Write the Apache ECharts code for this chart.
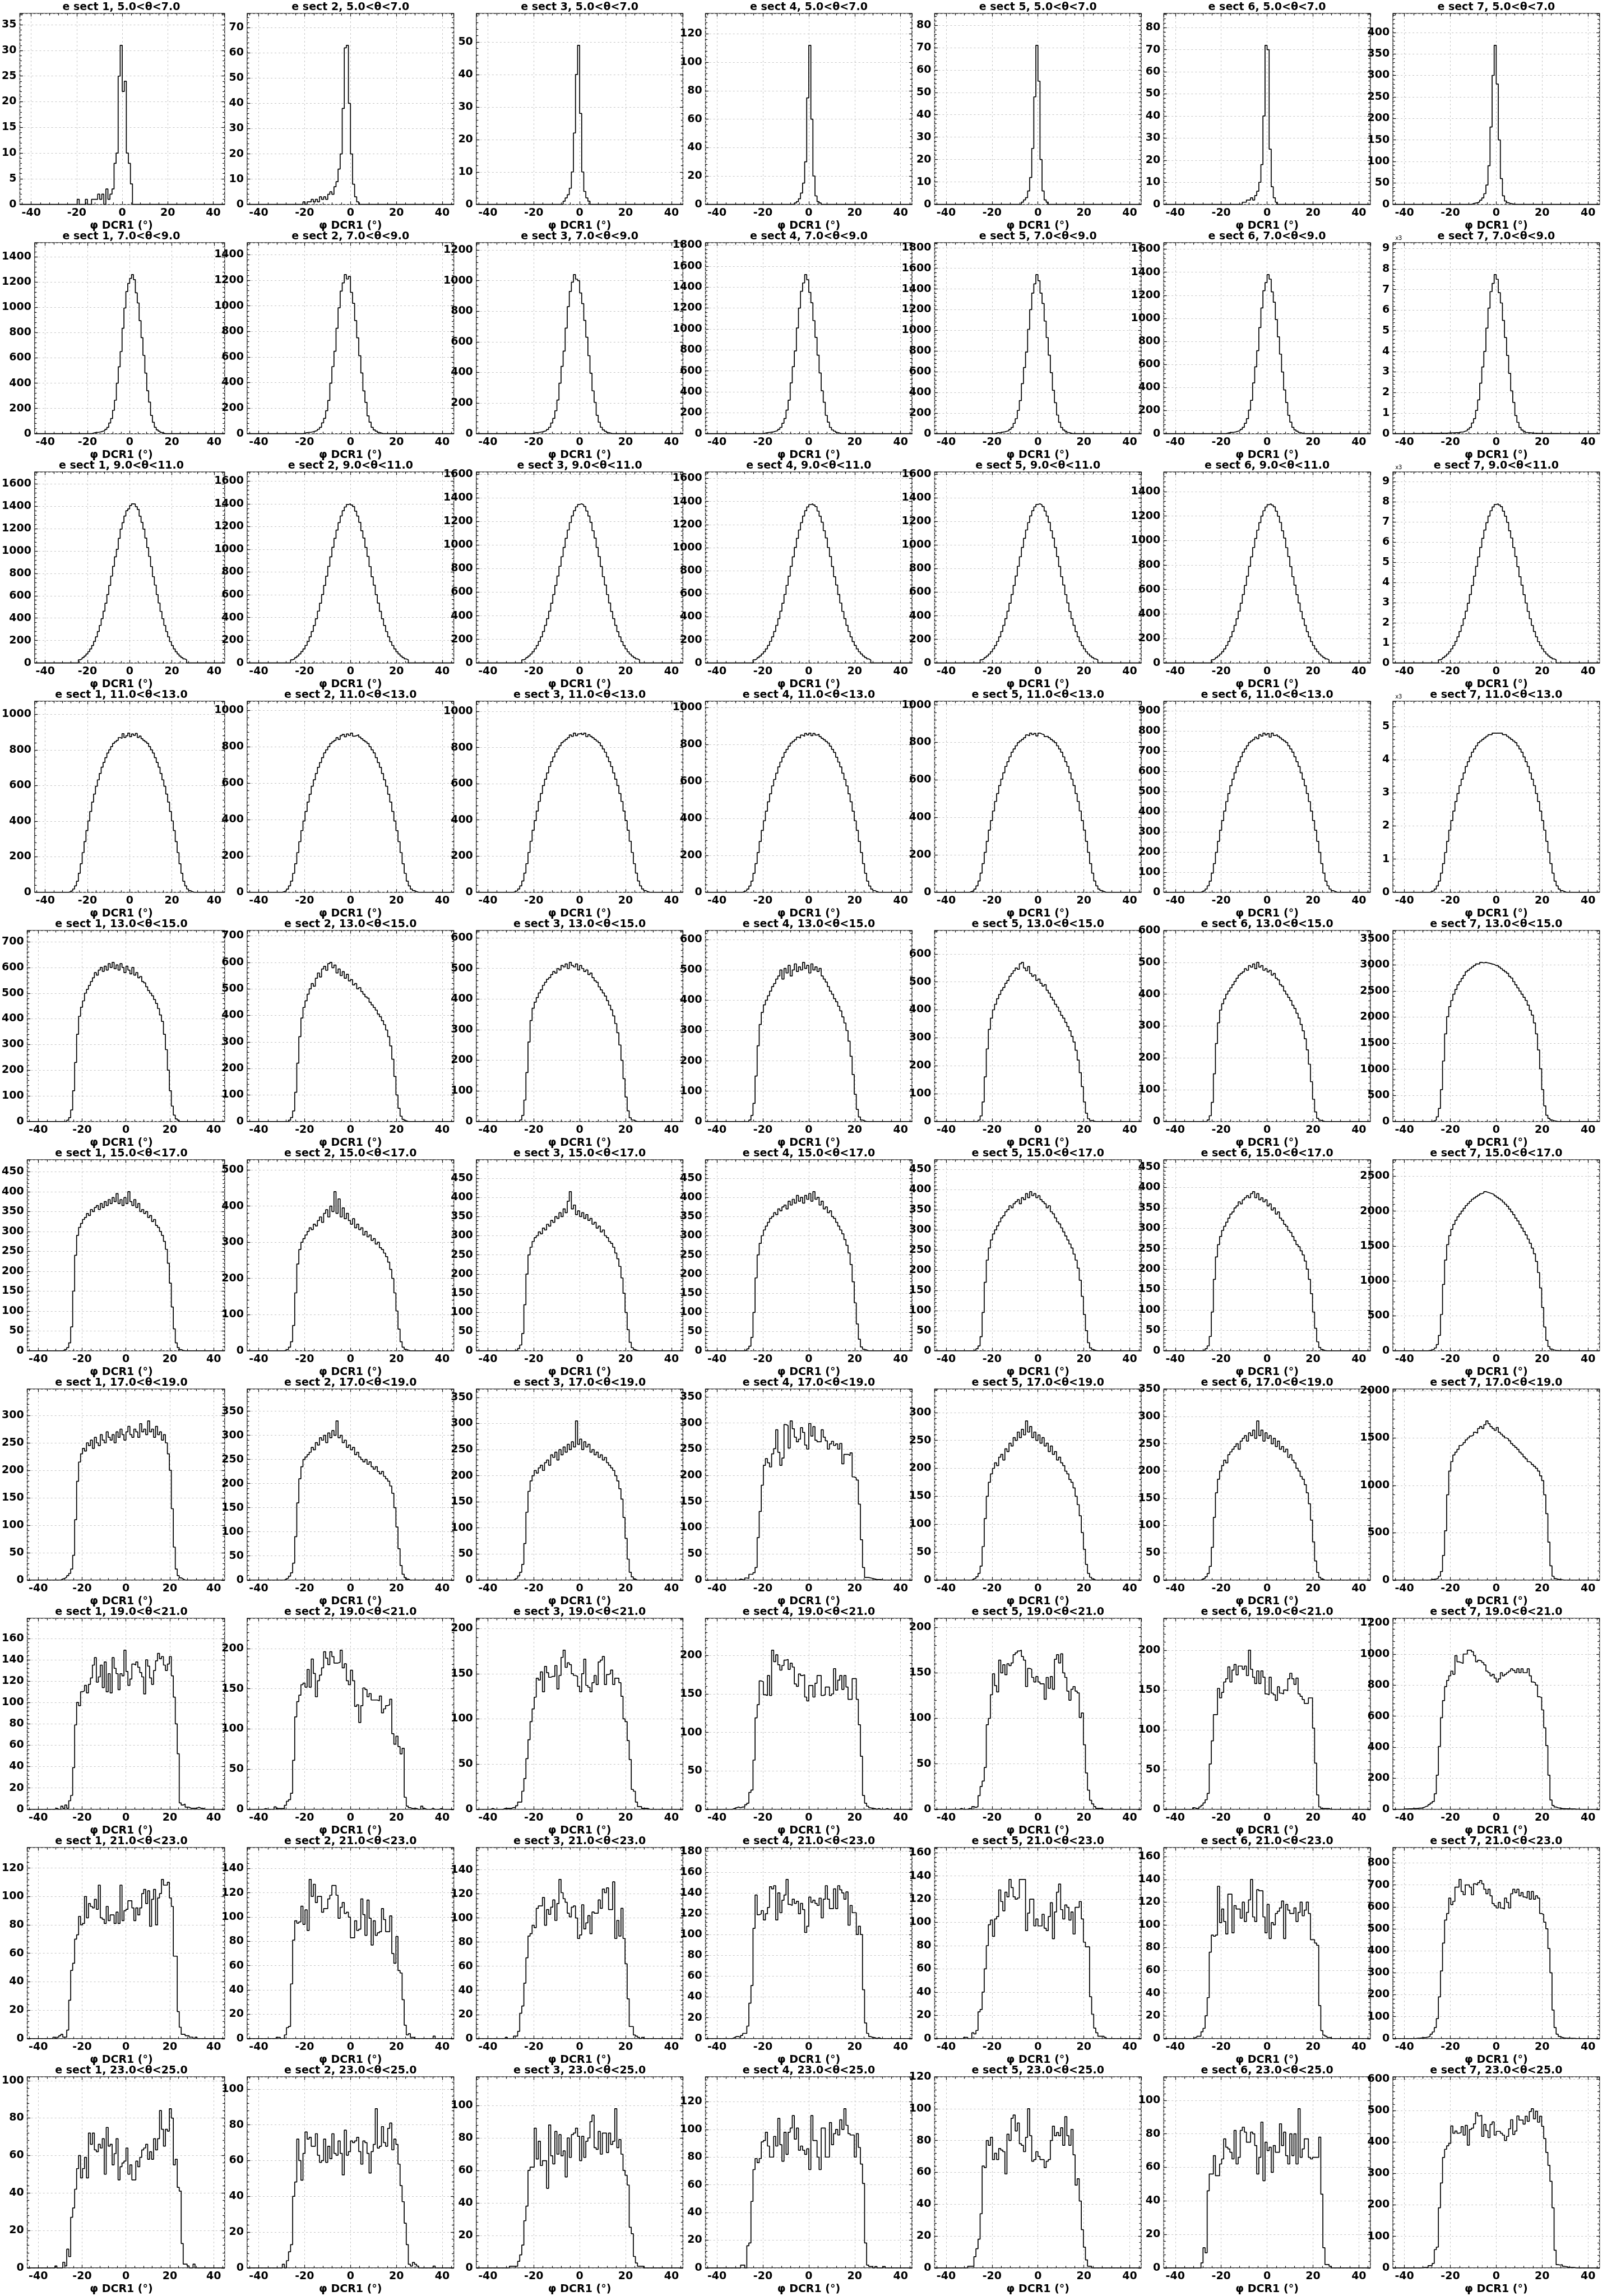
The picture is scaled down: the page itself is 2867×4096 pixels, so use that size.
<!DOCTYPE html>
<html><head><meta charset="utf-8">
<script src="https://cdn.jsdelivr.net/npm/echarts@6/dist/echarts.min.js"></script>
<style>html,body{margin:0;padding:0;background:#fff}#chart{width:2867px;height:4096px}</style>
</head><body><div id="chart"></div>
<script>
// ---------------- DATA ----------------
const PHI_MIN = -45, PHI_MAX = 45, N_BINS = 100;
const thetaLow = [5, 7, 9, 11, 13, 15, 17, 19, 21, 23];
const thetaHigh = [7, 9, 11, 13, 15, 17, 19, 21, 23, 25];
const sectorIds = [1, 2, 3, 4, 5, 6, 7];
const xMinorTicks = [-44, -36, -32, -28, -24, -16, -12, -8, -4, 4, 8, 12, 16, 24, 28, 32, 36, 44];
const xAxisTitle = 'φ DCR1 (°)';

// first non-empty bin of each sector histogram, then the bin counts from there
const start_5_7 = [28, 27, 42, 43, 42, 38, 38];
const counts_5_7 = [
 [1,0,0,0,1,0,0,1,1,1,2,1,2,0,3,1,2,3,8,10,25,31,22,24,10,8,4],
 [1,0,1,1,2,1,2,1,3,2,3,2,4,5,4,7,9,14,20,38,62,63,40,20,8,3,1],
 [1,2,3,5,10,22,40,49,28,10,4,2,1],
 [1,2,4,8,15,30,75,112,60,20,6,2,1],
 [1,2,3,6,12,25,48,71,55,20,6,2,1],
 [1,1,2,2,3,2,4,6,10,18,40,72,70,25,8,3,1],
 [2,3,4,6,10,15,25,45,90,180,300,370,280,150,60,20,8,4,2,1]
];
const start_7_9 = [30, 27, 27, 28, 29, 30, 9];
const counts_7_9 = [
 [5,8,10,12,15,20,25,35,50,85,120,185,265,400,530,650,835,995,1125,1190,1230,1260,1220,1115,1035,895,760,620,480,340,250,145,90,50,30,20,10,5],
 [5,8,10,12,15,20,25,35,50,85,120,180,260,395,525,645,825,985,1115,1180,1245,1210,1230,1105,1020,885,750,610,475,335,245,140,90,50,30,20,10,5],
 [4,6,8,10,12,16,20,28,42,70,100,150,220,330,440,540,690,830,930,990,1040,1010,1000,920,850,740,630,510,395,280,205,120,75,42,25,16,8,4],
 [6,10,12,15,18,24,30,42,60,100,145,225,320,485,640,790,1010,1200,1360,1440,1520,1470,1350,1250,1080,920,750,580,410,300,175,110,60,36,24,12,6],
 [6,10,12,15,18,24,30,42,60,100,145,225,320,485,640,790,1010,1200,1360,1450,1540,1480,1360,1260,1090,930,760,590,420,300,180,110,60,36,24,12,6],
 [5,9,11,13,16,22,28,38,55,90,130,205,290,440,580,720,920,1090,1240,1310,1380,1340,1230,1140,990,840,690,535,380,270,160,100,55,33,22,11,5],
 [10,10,12,10,12,15,12,15,15,18,15,20,18,20,22,25,25,30,35,40,45,50,50,80,80,120,150,220,300,520,730,1130,1640,2450,3240,4000,5130,6100,6900,7300,7730,7500,6850,6350,5500,4670,3800,2930,2080,1520,880,550,300,180,120,60,50,40,30,20,20,15,15,12,12,10,10,10,8,8,8,6,6,5,5,5,4,4,3,3,2]
];
const start_9_11 = [23, 21, 22, 23, 22, 23, 22];
const counts_9_11 = [
 [28,37,48,62,80,101,126,156,192,233,281,335,395,462,533,611,692,775,862,947,1015,1112,1195,1252,1311,1358,1375,1405,1420,1418,1395,1370,1310,1255,1195,1115,1030,950,860,770,695,610,535,460,395,335,280,233,190,156,126,100,80,62,48,37,28],
 [28,36,47,61,79,100,124,154,189,230,277,330,389,456,526,602,682,764,850,934,1017,1096,1169,1234,1293,1339,1372,1393,1400,1390,1376,1336,1292,1237,1163,1099,1016,937,848,759,685,601,527,454,389,330,276,230,187,154,124,99,79,61,47,36,28],
 [27,35,46,59,76,96,120,148,183,222,267,319,376,439,507,581,658,737,820,901,980,1057,1128,1191,1247,1291,1324,1344,1350,1341,1327,1289,1246,1193,1122,1060,980,903,818,732,661,580,509,437,376,319,266,222,181,148,120,95,76,59,46,35,27],
 [27,36,47,60,78,98,122,152,187,226,273,326,384,449,518,594,673,753,838,920,1002,1081,1153,1217,1274,1320,1353,1373,1380,1370,1356,1317,1273,1220,1147,1084,1001,923,836,748,676,593,520,447,384,326,272,226,185,152,122,97,78,60,47,36,27],
 [27,35,46,59,76,96,120,148,183,222,267,319,376,439,507,581,658,737,820,901,980,1057,1128,1191,1247,1291,1324,1344,1350,1341,1327,1289,1246,1193,1122,1060,980,903,818,732,661,580,509,437,376,319,266,222,181,148,120,95,76,59,46,35,27],
 [26,34,44,57,73,92,115,143,176,213,257,307,361,423,488,559,633,709,789,867,943,1017,1085,1146,1200,1243,1274,1293,1300,1290,1276,1240,1199,1148,1080,1020,942,869,787,705,636,558,490,421,361,307,256,213,174,143,115,92,73,57,44,34,26],
 [156,206,267,345,445,562,701,868,1068,1296,1563,1864,2197,2570,2965,3399,3849,4311,4795,5268,5735,6186,6598,6965,7293,7554,7744,7861,7900,7844,7760,7538,7288,6982,6565,6204,5731,5285,4784,4283,3866,3393,2976,2559,2197,1864,1558,1296,1057,868,701,556,445,345,267,206,156]
];
const start_11_13 = [18, 17, 18, 18, 17, 18, 18];
const counts_11_13 = [
 [4,9,18,36,62,107,160,223,285,347,401,454,507,552,596,632,668,703,730,757,783,801,819,837,846,854,870,865,892,870,880,895,875,890,882,893,870,878,863,854,846,837,819,801,783,757,730,703,668,632,596,552,507,454,401,347,285,223,160,107,62,36,18,9,4],
 [4,9,17,35,61,104,157,218,278,339,392,444,496,539,583,618,653,687,713,740,766,783,800,818,827,835,850,840,861,868,855,870,862,875,858,861,866,853,844,835,827,818,800,783,766,740,713,687,653,618,583,539,496,444,392,339,278,218,157,104,61,35,17,9,4],
 [4,9,18,35,62,106,158,220,282,343,396,449,502,546,590,625,660,695,722,748,774,792,810,827,836,845,854,870,862,880,866,875,880,872,880,860,871,862,854,845,836,827,810,792,774,748,722,695,660,625,590,546,502,449,396,343,282,220,158,106,62,35,18,9,4],
 [4,9,17,34,60,103,155,215,275,335,387,439,490,533,576,611,645,679,705,731,757,774,791,808,817,826,840,835,851,845,860,852,862,848,860,851,856,843,834,826,817,808,791,774,757,731,705,679,645,611,576,533,490,439,387,335,275,215,155,103,60,34,17,9,4],
 [4,9,17,34,60,102,153,213,272,332,383,434,485,527,570,604,638,672,697,723,748,765,782,799,808,816,825,840,836,850,842,848,835,850,845,842,832,833,825,816,808,799,782,765,748,723,697,672,638,604,570,527,485,434,383,332,272,213,153,102,60,34,17,9,4],
 [4,8,16,32,55,95,142,198,253,308,356,403,450,490,529,561,593,624,648,672,695,711,727,743,751,758,770,762,782,775,790,781,788,770,790,778,782,774,766,758,751,743,727,711,695,672,648,624,593,561,529,490,450,403,356,308,253,198,142,95,55,32,16,8,4],
 [24,48,96,192,336,576,864,1200,1536,1872,2160,2448,2736,2976,3216,3408,3600,3792,3936,4080,4224,4320,4416,4512,4560,4608,4656,4704,4752,4752,4800,4800,4800,4800,4800,4752,4752,4704,4656,4608,4560,4512,4416,4320,4224,4080,3936,3792,3600,3408,3216,2976,2736,2448,2160,1872,1536,1200,864,576,336,192,96,48,24]
];
const start_13_15 = [20, 20, 21, 21, 21, 21, 19];
const counts_13_15 = [
 [5,15,45,120,230,340,410,445,470,500,515,530,545,560,580,570,590,600,585,605,590,615,600,620,595,610,590,615,600,580,605,590,575,600,570,580,560,565,545,540,525,510,500,490,475,460,440,415,390,340,280,200,120,60,25,10,5],
 [5,15,40,110,220,320,390,430,455,480,500,520,510,540,560,545,575,585,570,595,600,580,590,560,575,550,565,540,555,530,535,515,520,500,505,490,480,470,465,450,440,430,420,405,395,380,365,345,320,285,235,170,100,50,20,8,3],
 [5,20,70,160,260,330,370,390,405,420,430,445,455,465,470,480,490,485,500,495,510,505,515,500,520,510,505,515,495,510,500,490,495,480,485,470,460,455,440,430,420,410,395,380,365,345,320,290,250,200,140,80,35,12,5,2],
 [5,20,60,150,250,320,360,385,400,415,430,445,455,470,480,500,470,505,490,515,480,500,520,495,510,500,525,505,515,490,520,500,510,495,505,480,470,460,445,430,420,405,395,380,365,345,325,300,265,215,155,90,40,15,5,2],
 [5,20,70,160,260,330,370,400,420,440,455,470,480,495,505,520,530,540,550,545,565,570,550,540,555,530,520,525,505,510,495,485,490,470,460,445,435,420,410,395,380,370,355,340,325,305,285,255,220,175,125,70,30,10,4,2],
 [5,18,60,150,245,310,350,370,385,400,410,420,430,440,450,460,465,470,480,475,490,485,495,480,500,485,490,475,480,470,475,460,465,450,445,430,425,410,400,390,380,365,355,340,325,305,285,260,225,180,125,70,30,10,4,2],
 [10,30,90,250,610,1160,1680,2010,2200,2320,2440,2530,2620,2680,2740,2800,2870,2900,2930,2960,2990,3020,3020,3050,3040,3050,3040,3030,3020,3010,2990,2990,2960,2930,2900,2870,2840,2780,2750,2680,2620,2560,2500,2440,2380,2320,2230,2130,2040,1890,1680,1370,1010,610,300,120,60,30,15,8]
];
const start_15_17 = [18, 18, 19, 19, 19, 19, 17];
const counts_15_17 = [
 [2,4,8,20,60,150,240,290,310,320,330,335,345,340,355,350,360,365,355,370,360,375,365,380,370,385,375,395,370,380,365,385,370,400,375,365,380,360,370,350,355,345,350,335,340,325,330,315,310,300,290,275,255,220,170,110,55,20,8,3,1],
 [2,4,10,25,70,160,240,280,300,310,320,330,340,335,350,345,360,370,355,380,390,370,400,385,440,380,420,370,395,365,380,360,350,365,340,350,335,340,320,330,315,320,305,310,295,300,285,280,270,260,245,225,200,160,110,60,25,10,4,2],
 [2,6,15,45,120,200,250,270,285,295,300,310,305,320,315,330,325,340,335,350,345,360,350,370,360,390,415,370,380,355,365,350,360,345,355,340,345,330,335,320,325,310,315,300,295,285,280,270,255,240,220,190,150,100,55,22,8,3,1],
 [2,5,12,35,100,190,250,280,300,315,325,335,345,350,360,355,370,365,375,380,370,390,380,395,385,405,390,400,385,405,395,410,390,415,395,400,380,390,370,375,360,365,350,345,335,325,315,305,290,275,255,225,180,125,70,30,10,4,2],
 [2,5,12,35,95,170,225,255,275,290,300,310,320,330,335,345,350,360,355,365,370,375,365,380,375,390,380,395,385,390,380,385,375,370,365,355,360,345,340,330,320,315,305,295,285,275,265,255,240,225,205,175,135,90,50,20,7,3,1],
 [2,5,12,35,95,175,230,260,280,295,305,315,325,335,340,350,355,365,360,370,375,380,375,385,390,375,385,370,375,365,370,355,360,345,350,335,340,325,320,310,305,295,290,280,270,260,255,245,235,220,200,175,140,95,55,22,8,3,1],
 [5,10,20,40,90,220,520,950,1300,1520,1650,1740,1810,1870,1920,1960,2000,2040,2080,2110,2140,2170,2190,2210,2230,2250,2260,2280,2270,2260,2250,2240,2220,2200,2180,2160,2130,2100,2070,2030,1990,1950,1900,1860,1810,1760,1710,1660,1600,1540,1470,1390,1280,1120,900,620,340,150,60,25,12,6,3]
];
const start_17_19 = [17, 18, 18, 16, 18, 18, 18];
const counts_17_19 = [
 [2,3,5,8,12,20,45,110,180,215,230,240,235,250,245,255,240,260,250,245,265,255,250,270,260,255,265,250,270,260,275,265,255,270,280,265,260,275,270,260,285,270,275,265,290,270,275,260,280,265,270,255,265,250,230,200,130,60,20,8,4,2],
 [2,4,8,15,35,90,160,210,235,250,255,260,265,275,270,285,280,295,290,300,285,305,295,310,300,330,295,300,285,290,275,280,270,275,260,265,255,250,245,250,240,245,235,230,235,225,220,225,215,210,205,195,180,150,110,65,30,12,5,2],
 [2,4,8,15,30,70,130,170,190,200,210,205,215,220,210,225,230,220,240,235,245,230,250,240,255,245,260,250,265,255,305,260,270,250,265,255,260,245,250,240,245,235,240,230,235,225,220,215,210,200,190,175,155,120,80,40,15,6,2],
 [2,1,0,4,3,11,11,14,24,81,131,181,219,232,224,216,241,251,287,244,219,233,297,295,252,304,289,273,264,269,291,282,258,250,299,275,293,267,264,264,287,273,266,250,260,265,257,260,250,261,222,240,240,238,243,197,195,191,145,77,24,5,5,4,3,2,1,1,1],
 [2,3,6,12,25,60,110,150,175,190,200,210,205,220,225,215,235,230,245,240,255,250,265,255,270,260,285,265,275,255,265,250,260,245,255,240,245,230,240,225,230,215,220,210,205,195,190,180,175,165,150,135,115,85,55,28,12,5,2],
 [2,3,6,12,25,60,115,160,185,200,210,220,215,230,235,240,245,250,240,255,260,265,255,270,265,275,260,292,265,275,255,270,260,265,250,260,245,255,240,245,235,240,225,230,220,215,205,200,190,185,175,160,140,110,70,35,14,5,2],
 [5,8,12,20,40,90,260,520,900,1150,1250,1320,1350,1380,1420,1430,1450,1480,1500,1520,1530,1560,1550,1600,1620,1600,1640,1680,1650,1620,1600,1580,1610,1560,1540,1520,1500,1490,1470,1440,1420,1400,1380,1350,1330,1300,1280,1250,1240,1220,1200,1180,1150,1100,1050,900,700,400,150,40,15,8,5,3]
];
const start_19_21 = [14, 8, 7, 13, 12, 14, 5];
const counts_19_21 = [
 [1,0,0,3,1,4,1,8,13,39,79,100,97,110,111,116,109,117,123,135,142,119,124,135,114,138,110,127,109,142,132,127,112,127,125,149,129,116,122,136,135,138,133,128,124,108,140,134,123,117,130,139,146,141,143,135,130,136,143,125,105,80,52,6,4,5,2,2,1,1,1,1,2,1,1],
 [1,0,0,0,0,3,1,1,1,1,5,10,12,20,61,115,134,142,155,157,152,174,152,187,169,140,160,167,176,196,188,180,196,190,182,182,183,198,176,181,160,155,173,160,128,130,108,129,151,149,140,144,136,136,136,135,141,120,125,129,130,137,94,81,91,78,69,76,15,4,2,1,1,1,0,0,4,1,0,0,0,1,0,0,0,1],
 [1,0,0,0,0,0,1,1,1,1,2,2,4,8,8,20,34,56,77,97,111,124,145,143,152,130,158,151,146,147,147,159,133,148,168,176,157,162,160,150,148,147,136,130,150,166,137,135,130,140,148,138,163,165,169,138,149,150,154,138,145,145,140,125,100,97,76,55,22,20,8,3,3,1,1,1],
 [1,2,3,2,3,3,6,8,22,25,64,119,136,167,166,149,148,174,148,207,192,201,188,181,187,194,195,182,190,185,163,160,176,174,175,146,141,161,161,146,164,174,174,148,149,159,159,148,150,183,155,168,174,156,174,159,143,143,170,170,143,110,69,18,8,4,2,1,1,0,1,0,0,0,1],
 [1,0,0,0,1,0,3,2,3,15,25,31,46,93,100,126,149,136,129,164,150,159,148,160,158,161,170,172,174,175,168,164,135,155,154,145,140,146,140,138,138,121,145,133,146,132,165,170,161,171,150,145,130,120,132,135,130,128,101,106,71,40,21,10,6,3,1,1,1],
 [2,1,1,3,5,8,12,20,57,86,119,119,152,140,147,160,164,179,160,175,182,169,180,180,176,180,168,200,176,166,158,174,158,174,166,145,144,166,146,144,137,154,146,145,150,149,164,171,164,157,165,145,142,138,133,133,140,140,102,58,18,3,1,1,1,1],
 [2,2,3,3,4,5,6,8,8,12,18,22,30,40,50,100,220,405,590,700,790,830,860,890,870,990,950,945,940,1000,1000,1025,1025,1015,990,950,960,955,945,930,890,880,860,870,845,820,840,880,860,870,880,890,905,895,880,905,880,905,880,880,905,860,820,815,800,725,720,640,525,410,220,60,25,15,10,8,5,4,3,3,2,2,2,1,1]
];
const start_21_23 = [13, 14, 14, 13, 14, 15, 11];
const counts_21_23 = [
 [1,0,1,2,3,1,1,6,27,48,53,70,73,86,80,81,100,85,95,93,92,98,91,108,85,84,81,93,83,87,87,81,89,81,108,83,90,91,97,97,92,83,92,87,92,102,105,95,104,79,98,105,80,99,102,112,108,108,110,99,93,58,58,19,8,3,3,2,2,1,1,0,1],
 [1,1,0,0,3,9,10,45,81,97,95,96,109,94,106,89,131,117,127,112,117,117,104,107,107,115,118,126,126,118,99,108,112,103,104,100,83,83,97,89,90,115,102,85,114,99,77,97,85,87,88,107,98,88,88,101,70,62,84,56,54,32,11,3,4,1,1,0,0,0,0,0,0,0,0,0,2],
 [1,0,0,0,2,2,6,21,27,46,67,85,87,94,92,108,110,110,117,94,107,103,109,115,98,112,132,121,116,113,104,101,109,110,100,83,86,111,91,96,102,87,105,104,104,115,108,124,121,125,107,107,130,83,98,85,108,83,62,33,10,10,3,2,1,0,1],
 [1,2,2,1,3,5,5,12,34,51,106,138,119,120,123,114,120,126,146,144,147,114,140,121,133,138,153,129,128,134,130,132,120,130,124,102,108,136,131,133,130,128,135,116,134,147,134,125,125,144,125,147,143,140,134,141,109,128,121,121,100,108,100,47,15,5,2,1,1,0,1],
 [1,1,0,0,5,4,7,23,25,40,60,80,98,102,88,103,105,128,118,110,126,122,137,130,122,120,121,137,137,137,93,108,120,120,97,103,97,97,107,95,93,105,117,86,109,126,133,111,103,115,113,102,109,90,113,113,118,103,83,79,79,36,21,9,5,2,2,2,1],
 [1,2,2,6,9,20,36,76,91,90,91,134,102,114,103,92,127,127,93,117,114,114,106,120,103,111,122,140,107,103,131,130,130,107,93,118,88,102,100,110,112,115,121,88,118,113,110,110,115,103,111,120,108,113,120,110,87,87,84,82,29,7,3,2,1,1],
 [2,2,3,4,5,7,10,20,30,50,91,190,308,435,540,570,640,610,625,690,690,725,670,655,700,700,690,655,705,700,710,720,705,680,660,680,650,615,605,595,620,595,590,640,620,595,660,680,665,680,650,665,645,640,670,635,670,635,650,640,570,565,530,500,410,300,130,50,20,10,5,3,2,2,1,1,1]
];
const start_23_25 = [14, 17, 16, 17, 16, 18, 14];
const counts_23_25 = [
 [1,0,0,0,3,1,10,6,27,32,42,53,60,48,53,59,48,72,66,72,63,62,66,64,69,50,75,65,66,55,61,69,47,54,56,57,64,50,55,47,47,57,54,59,63,64,66,58,62,58,69,63,69,84,74,65,74,73,85,80,55,58,43,41,13,2,2,1,0,0,2],
 [2,0,4,9,13,40,48,72,60,49,64,76,72,73,68,68,75,63,59,60,72,59,68,61,75,64,63,71,64,52,77,63,65,71,70,71,73,65,58,71,70,64,53,65,69,89,67,68,79,70,68,78,81,66,72,69,58,46,37,25,13,2,1,3,2,1,0,0,0,0,0,0,0,1],
 [1,1,1,1,4,8,14,29,38,60,62,62,86,67,78,63,66,66,49,88,69,64,84,70,82,69,72,56,80,68,82,83,86,81,66,81,68,78,80,90,94,74,73,84,70,83,83,71,83,76,78,98,74,79,70,60,57,51,25,21,7,3,1,1,1],
 [2,2,0,16,18,48,71,79,76,79,91,92,98,88,80,80,95,88,108,89,77,98,82,98,101,110,93,101,85,88,85,82,86,71,110,92,92,80,71,101,101,80,80,105,89,97,100,96,107,100,115,103,97,96,96,80,97,87,75,61,18,2,1,1,0,1,0,0,0,1],
 [1,1,1,7,12,18,34,64,63,80,77,82,68,72,68,75,74,73,59,84,80,94,96,86,91,78,77,73,82,100,83,67,68,73,70,68,68,63,67,68,80,89,83,85,83,88,77,95,83,77,87,71,52,56,42,24,13,5,1,1],
 [3,12,9,46,56,56,67,55,55,62,65,77,72,71,69,65,82,62,66,82,84,81,75,75,81,80,73,56,66,87,52,75,70,72,57,73,69,69,86,73,81,67,62,80,67,80,62,95,66,71,77,77,66,65,66,66,66,78,44,12,2,2,1],
 [1,1,1,7,8,14,58,66,191,270,351,377,388,396,451,428,435,428,430,449,422,453,390,440,444,458,493,483,485,418,456,436,414,456,464,422,434,434,428,422,405,418,442,471,424,435,483,470,470,457,482,466,497,506,474,498,463,482,450,411,367,326,275,191,56,10,9,10,5,4,2,1,1,1]
];

const rowStarts = [start_5_7, start_7_9, start_9_11, start_11_13, start_13_15, start_15_17, start_17_19, start_19_21, start_21_23, start_23_25];
const rowCounts = [counts_5_7, counts_7_9, counts_9_11, counts_11_13, counts_13_15, counts_15_17, counts_17_19, counts_19_21, counts_21_23, counts_23_25];

// ---------------- LAYOUT (window px) ----------------
const S = 0.819;
const GRID_LEFT0 = 39.3 * S, GRID_TOP0 = 29.3 * S;
const COL_PITCH = 499.17 * S, ROW_PITCH = 499.4 * S;
const PLOT_W = 450 * S, PLOT_H = 416 * S;
const FONT = 'DejaVu Sans';
const FS = 19;

function niceStep(raw) {
  const e = Math.pow(10, Math.floor(Math.log10(raw)));
  for (const m of [1, 2, 5, 10]) if (m * e >= raw - 1e-9) return m * e;
  return 10 * e;
}

const option = { animation: false, backgroundColor: '#ffffff', grid: [], xAxis: [], yAxis: [], series: [], graphic: [] };
const tickLine = { color: '#111', width: 1.2 };
const gridLine = { color: '#c4c4c4', type: [3, 4], width: 1 };
const binW = (PHI_MAX - PHI_MIN) / N_BINS;

rowCounts.forEach((rowArr, r) => {
  rowArr.forEach((vals, c) => {
    const start = rowStarts[r][c];
    const full = new Array(N_BINS).fill(0);
    vals.forEach((v, i) => { full[start + i] = v; });
    const maxV = Math.max(...full);
    const yMax = maxV * 1.2;
    const step = niceStep(yMax / 10);
    const div = maxV >= 4000 ? 1000 : 1;
    const left = GRID_LEFT0 + c * COL_PITCH, top = GRID_TOP0 + r * ROW_PITCH;
    const gi = option.grid.length;
    option.grid.push({ left, top, width: PLOT_W, height: PLOT_H, show: true, borderColor: '#2a2a2a', borderWidth: 1.5, backgroundColor: 'rgba(0,0,0,0)', containLabel: false });

    const xc = { type: 'value', gridIndex: gi, min: PHI_MIN, max: PHI_MAX, axisLine: { show: false, onZero: false } };
    const xi = option.xAxis.length;
    option.xAxis.push(Object.assign({}, xc, { position: 'bottom', splitNumber: 5,
      axisTick: { show: true, inside: true, length: 5.5, lineStyle: tickLine },
      axisLabel: { show: true, margin: 6, color: '#000', fontFamily: FONT, fontWeight: 'bold', fontSize: FS, showMinLabel: false, showMaxLabel: false },
      splitLine: { show: true, lineStyle: gridLine } }));
    option.xAxis.push(Object.assign({}, xc, { position: 'bottom',
      axisTick: { show: true, inside: true, length: 3.5, lineStyle: tickLine, customValues: xMinorTicks },
      axisLabel: { show: false }, splitLine: { show: false } }));
    option.xAxis.push(Object.assign({}, xc, { position: 'top', splitNumber: 5,
      axisTick: { show: true, inside: true, length: 5.5, lineStyle: tickLine },
      axisLabel: { show: false }, splitLine: { show: false } }));
    option.xAxis.push(Object.assign({}, xc, { position: 'top',
      axisTick: { show: true, inside: true, length: 3.5, lineStyle: tickLine, customValues: xMinorTicks },
      axisLabel: { show: false }, splitLine: { show: false } }));

    const yc = { type: 'value', gridIndex: gi, min: 0, max: yMax, axisLine: { show: false, onZero: false } };
    const yi = option.yAxis.length;
    option.yAxis.push(Object.assign({}, yc, { position: 'left', interval: step,
      axisTick: { show: true, inside: true, length: 5.5, lineStyle: tickLine },
      axisLabel: { show: true, margin: 6, color: '#000', fontFamily: FONT, fontWeight: 'bold', fontSize: FS,
        formatter: v => (Math.abs(v / step - Math.round(v / step)) > 1e-6 ? '' : String(Math.round(v / div))) },
      splitLine: { show: true, lineStyle: gridLine } }));
    option.yAxis.push(Object.assign({}, yc, { position: 'left', interval: step / 5,
      axisTick: { show: true, inside: true, length: 3.5, lineStyle: tickLine }, axisLabel: { show: false }, splitLine: { show: false } }));
    option.yAxis.push(Object.assign({}, yc, { position: 'right', interval: step,
      axisTick: { show: true, inside: true, length: 5.5, lineStyle: tickLine }, axisLabel: { show: false }, splitLine: { show: false } }));
    option.yAxis.push(Object.assign({}, yc, { position: 'right', interval: step / 5,
      axisTick: { show: true, inside: true, length: 3.5, lineStyle: tickLine }, axisLabel: { show: false }, splitLine: { show: false } }));

    const pts = [];
    for (let i = 0; i < N_BINS; i++) {
      const x0 = PHI_MIN + i * binW;
      pts.push([x0, full[i]], [x0 + binW, full[i]]);
    }
    option.series.push({ type: 'line', xAxisIndex: xi, yAxisIndex: yi, data: pts, symbol: 'none', showSymbol: false,
      lineStyle: { color: '#000', width: 1.7 }, silent: true, clip: true, z: 5 });

    const title = 'e sect ' + sectorIds[c] + ', ' + thetaLow[r].toFixed(1) + '<θ<' + thetaHigh[r].toFixed(1);
    option.graphic.push({ type: 'text', x: left + PLOT_W / 2, y: top - 11.2, z: 10,
      style: { text: title, font: 'bold ' + FS + 'px "' + FONT + '"', fill: '#000', align: 'center', verticalAlign: 'middle', textAlign: 'center', textVerticalAlign: 'middle' } });
    option.graphic.push({ type: 'text', x: left + PLOT_W / 2, y: top + PLOT_H + 38.7, z: 10,
      style: { text: xAxisTitle, font: 'bold ' + FS + 'px "' + FONT + '"', fill: '#000', align: 'center', verticalAlign: 'middle', textAlign: 'center', textVerticalAlign: 'middle' } });
    if (div === 1000) {
      option.graphic.push({ type: 'text', x: left + 10.2, y: top - 7.4, z: 10,
        style: { text: 'x3', font: '10px "' + FONT + '"', fill: '#000', align: 'center', verticalAlign: 'middle', textAlign: 'center', textVerticalAlign: 'middle' } });
    }
  });
});

const chart = echarts.init(document.getElementById('chart'), null, { renderer: 'canvas', width: 2867, height: 4096 });
chart.setOption(option);
</script>
</body></html>
